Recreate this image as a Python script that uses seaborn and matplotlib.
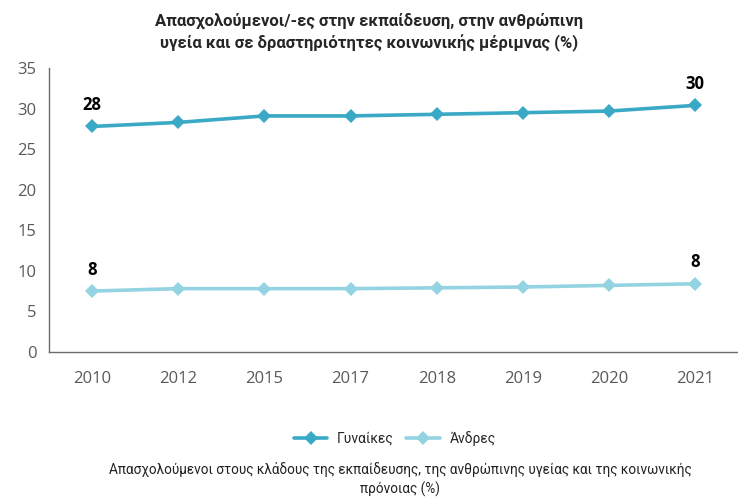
import numpy as np
import pandas as pd
import matplotlib
matplotlib.use('Agg')
import matplotlib.pyplot as plt
import seaborn as sns

# data
years = ['2010', '2012', '2015', '2017', '2018', '2019', '2020', '2021']
women = [27.8, 28.3, 29.1, 29.1, 29.3, 29.5, 29.7, 30.4]
men = [7.5, 7.8, 7.8, 7.8, 7.9, 8.0, 8.2, 8.4]
series_names = ['Γυναίκες', 'Άνδρες']
colors = ['#3aa9c5', '#94d3e2']

df = pd.DataFrame({
    'Έτος': years * 2,
    'Τιμή': women + men,
    'Φύλο': [series_names[0]] * len(years) + [series_names[1]] * len(years),
})

sns.set_style('white')
plt.rcParams['font.family'] = ['Open Sans', 'DejaVu Sans']

fig = plt.figure(figsize=(7.38, 4.97), dpi=100, facecolor='white')
ax = fig.add_axes([0.0664, 0.292, 0.934, 0.571])

sns.lineplot(data=df, x='Έτος', y='Τιμή', hue='Φύλο', palette=colors,
             marker='D', markersize=7, markeredgewidth=0, linewidth=2.6,
             sort=False, legend=False, ax=ax)

ax.set_xlim(-0.5, len(years) - 0.5)
ax.set_ylim(0, 35)
ax.set_yticks(np.arange(0, 36, 5))
ax.set_xticks(range(len(years)))
ax.set_xticklabels(years)
ax.set_xticks(np.arange(-0.5, len(years), 1.0), minor=True)
ax.tick_params(axis='x', which='major', length=0, pad=14, labelsize=12, labelcolor='#595959')
ax.tick_params(axis='x', which='minor', length=5, direction='out', color='#6b6b6b', width=1)
ax.tick_params(axis='y', length=5, direction='out', color='#6b6b6b', width=1,
               labelsize=12, labelcolor='#595959', pad=4)
ax.set_xlabel('')
ax.set_ylabel('')
for s in ['top', 'right']:
    ax.spines[s].set_visible(False)
for s in ['left', 'bottom']:
    ax.spines[s].set_color('#6b6b6b')
    ax.spines[s].set_linewidth(1)

# value labels on first and last points
for vals in [women, men]:
    for i in [0, len(years) - 1]:
        ax.annotate(f'{vals[i]:.0f}', (i, vals[i]), xytext=(0, 9), textcoords='offset points',
                    ha='center', va='bottom', fontsize=12, fontweight='bold', color='black')

fig.text(0.5, 0.935, 'Απασχολούμενοι/-ες στην εκπαίδευση, στην ανθρώπινη\n'
         'υγεία και σε δραστηριότητες κοινωνικής μέριμνας (%)',
         ha='center', va='center', fontsize=12, fontweight='bold', family=['Roboto', 'DejaVu Sans'],
         linespacing=1.45)

handles = [plt.Line2D([], [], color=c, marker='D', markersize=7, markeredgewidth=0, linewidth=2.6)
           for c in colors]
fig.legend(handles, series_names, loc='center', bbox_to_anchor=(0.535, 0.118), ncol=2,
           frameon=False, handlelength=2.4, columnspacing=0.9, handletextpad=0.7,
           prop={'family': ['Roboto', 'DejaVu Sans'], 'size': 10})

fig.text(0.542, 0.035, 'Απασχολούμενοι στους κλάδους της εκπαίδευσης, της ανθρώπινης υγείας και της κοινωνικής\n'
         'πρόνοιας (%)', ha='center', va='center', fontsize=9.8, family=['Roboto', 'DejaVu Sans'],
         linespacing=1.45, color='#222222')

fig.savefig('out.png', dpi=100, facecolor='white')
